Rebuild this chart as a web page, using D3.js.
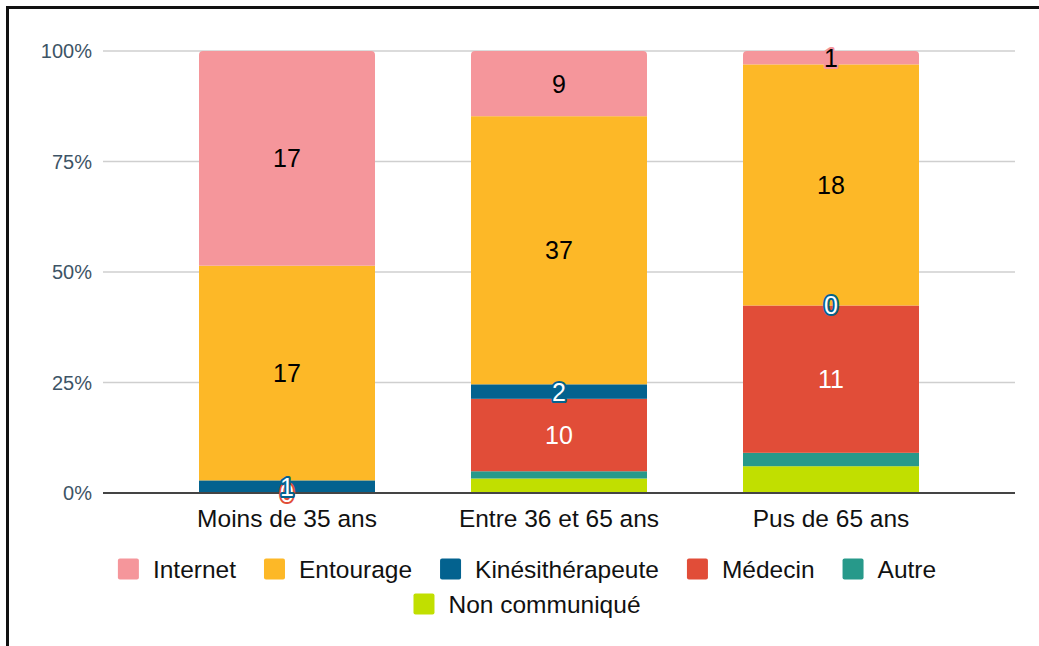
<!DOCTYPE html>
<html>
<head>
<meta charset="utf-8">
<script src="https://cdn.jsdelivr.net/npm/d3@7"></script>
<style>
  body { margin: 0; background: #fff; }
  svg { display: block; font-family: "Liberation Sans", Arial, sans-serif; }
</style>
</head>
<body>
<div id="chart"></div>
<script>
// data
const categories = ["Moins de 35 ans", "Entre 36 et 65 ans", "Pus de 65 ans"];
const seriesNames = ["Internet", "Entourage", "Kinésithérapeute", "Médecin", "Autre", "Non communiqué"];
const internet = [17, 9, 1];
const entourage = [17, 37, 18];
const kine = [1, 2, 0];
const medecin = [0, 10, 11];
const autre = [0, 1, 1];
const nonCommunique = [0, 2, 2];
const yTicks = [0, 0.25, 0.5, 0.75, 1];

const colors = ["#f5969b", "#fdb827", "#03628f", "#e14d38", "#27998a", "#c1df00"];
const labelFill = ["#000", "#000", "#fff", "#fff", null, null];

const width = 1039, height = 646;

// table for d3.stack
const values = [internet, entourage, kine, medecin, autre, nonCommunique];
const table = categories.map((c, i) => {
    let row = {category: c};
    seriesNames.forEach((s, j) => row[s] = values[j][i]);
    return row;
});

const svg = d3.select("#chart").append("svg")
    .attr("width", width)
    .attr("height", height);

// frame (top and left edges only)
svg.append("path")
    .attr("d", "M7.5,646 V7.5 H1039")
    .attr("fill", "none")
    .attr("stroke", "#111")
    .attr("stroke-width", 3);

let x = d3.scaleBand()
    .domain(categories)
    .range([151, 967])
    .paddingInner(96 / 272)
    .paddingOuter(48 / 272);

let y = d3.scaleLinear()
    .domain([0, 1])
    .range([493, 51]);

// gridlines
svg.append("g")
    .selectAll("line")
    .data(yTicks.filter(t => t > 0))
    .enter().append("line")
    .attr("x1", 103)
    .attr("x2", 1015)
    .attr("y1", d => y(d))
    .attr("y2", d => y(d))
    .attr("stroke", "#cfcfcf")
    .attr("stroke-width", 1.5);

// y axis labels
svg.append("g")
    .selectAll("text")
    .data(yTicks)
    .enter().append("text")
    .attr("x", 92)
    .attr("y", d => y(d))
    .attr("dy", "0.36em")
    .attr("text-anchor", "end")
    .attr("fill", "#3d5466")
    .style("font-size", "20px")
    .text(d => d3.format(".0%")(d));

// stack bottom to top: Non communiqué ... Internet
let keys = seriesNames.slice().reverse();
let stacked = d3.stack()
    .keys(keys)
    .offset(d3.stackOffsetExpand)(table);

// rounded top corners through a clip per bar
let defs = svg.append("defs");
categories.forEach((c, i) => {
    defs.append("clipPath")
        .attr("id", "clip" + i)
        .append("rect")
        .attr("x", x(c))
        .attr("y", y(1))
        .attr("width", x.bandwidth())
        .attr("height", y(0) - y(1) + 10)
        .attr("rx", 4);
});

let bars = svg.append("g");
categories.forEach((c, i) => {
    let g = bars.append("g").attr("clip-path", `url(#clip${i})`);
    stacked.forEach(layer => {
        let d = layer[i];
        g.append("rect")
            .attr("x", x(c))
            .attr("y", y(d[1]))
            .attr("width", x.bandwidth())
            .attr("height", y(d[0]) - y(d[1]))
            .attr("fill", colors[seriesNames.indexOf(layer.key)]);
    });
});

// baseline
svg.append("line")
    .attr("x1", 103)
    .attr("x2", 1015)
    .attr("y1", y(0))
    .attr("y2", y(0))
    .attr("stroke", "#444")
    .attr("stroke-width", 2);

// data labels (Médecin, Kiné, Entourage, Internet)
let labels = svg.append("g");
stacked.forEach(layer => {
    let s = seriesNames.indexOf(layer.key);
    if (!labelFill[s]) return;
    layer.forEach((d, i) => {
        labels.append("text")
            .attr("x", x(categories[i]) + x.bandwidth() / 2)
            .attr("y", y((d[0] + d[1]) / 2))
            .attr("dy", "0.36em")
            .attr("text-anchor", "middle")
            .attr("fill", labelFill[s])
            .attr("stroke", colors[s])
            .attr("stroke-width", 4)
            .attr("stroke-linejoin", "round")
            .attr("paint-order", "stroke")
            .style("font-size", "25px")
            .text(values[s][i]);
    });
});

// category labels
svg.append("g")
    .selectAll("text")
    .data(categories)
    .enter().append("text")
    .attr("x", d => x(d) + x.bandwidth() / 2)
    .attr("y", 527)
    .attr("text-anchor", "middle")
    .attr("fill", "#111")
    .style("font-size", "24.5px")
    .text(d => d);

// legend, two centred rows
let legendRows = [seriesNames.slice(0, 5), seriesNames.slice(5)];
let rowY = [569, 604];
let sq = 21, gapText = 14, gapItem = 28, legendCenter = 527;
legendRows.forEach((row, r) => {
    let g = svg.append("g");
    let items = row.map(name => {
        let item = g.append("g");
        item.append("rect")
            .attr("width", sq)
            .attr("height", sq)
            .attr("y", rowY[r] - sq / 2)
            .attr("rx", 2)
            .attr("fill", colors[seriesNames.indexOf(name)]);
        let t = item.append("text")
            .attr("x", sq + gapText)
            .attr("y", rowY[r])
            .attr("dy", "0.36em")
            .attr("fill", "#111")
            .style("font-size", "24.5px")
            .text(name);
        return {item: item, w: sq + gapText + t.node().getComputedTextLength()};
    });
    let total = d3.sum(items, d => d.w) + gapItem * (items.length - 1);
    let cx = legendCenter - total / 2;
    items.forEach(d => {
        d.item.attr("transform", `translate(${cx},0)`);
        cx += d.w + gapItem;
    });
});
</script>
</body>
</html>
